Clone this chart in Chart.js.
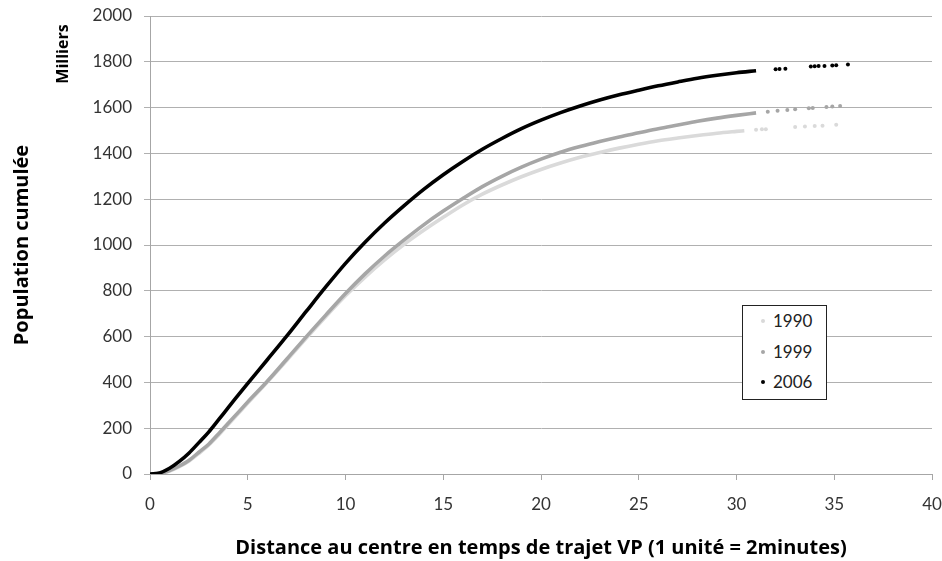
<!DOCTYPE html>
<html lang="fr">
<head>
<meta charset="utf-8">
<title>Population cumulée</title>
<script src="https://cdn.jsdelivr.net/npm/chart.js@4.4.1/dist/chart.umd.min.js"></script>
<style>
    html, body { margin: 0; padding: 0; background: #ffffff; }
    #wrap { position: relative; width: 942px; height: 561px; }
    #legend {
        position: absolute; left: 742px; top: 305px; width: 83px; height: 93px;
        border: 1px solid #222; background: #fff; font-family: Lato, sans-serif; font-size: 17px; color: #222;
    }
    #legend div { position: absolute; left: 0; height: 20px; line-height: 20px; }
    #legend span.dot { position: absolute; left: 18px; top: 8px; width: 4px; height: 4px; border-radius: 50%; }
    #legend span.txt { position: absolute; left: 30px; top: 0; }
</style>
</head>
<body>
<div id="wrap">
    <canvas id="mainChart" width="942" height="561"></canvas>
    <div id="legend">
        <div style="top:5px"><span class="dot" style="background:#d9d9d9"></span><span class="txt">1990</span></div>
        <div style="top:36px"><span class="dot" style="background:#a6a6a6"></span><span class="txt">1999</span></div>
        <div style="top:66px"><span class="dot" style="background:#000"></span><span class="txt">2006</span></div>
    </div>
</div>
<script>
// Graduations de l'axe X (temps de trajet) et de l'axe Y (milliers)
const xTicks = [0, 5, 10, 15, 20, 25, 30, 35, 40];
const yTicks = [0, 200, 400, 600, 800, 1000, 1200, 1400, 1600, 1800, 2000];

// Série 1990 (partie continue puis points isolés en fin de courbe)
const x1990 = [0, 0.5, 1, 1.5, 2, 2.5, 3, 3.5, 4, 4.5, 5, 6, 7, 8, 9, 10, 11, 12, 13, 14, 15, 16, 17, 18, 19, 20, 21, 22, 23, 24, 25, 26, 27, 28, 29, 30, 30.4];
const y1990 = [0, 3, 13, 32, 57, 90, 126, 169, 216, 263, 310, 402, 497, 594, 688, 778, 860, 935, 1003, 1064, 1121, 1175, 1222, 1262, 1298, 1330, 1358, 1383, 1404, 1423, 1440, 1455, 1467, 1478, 1488, 1496, 1499];
const tailX1990 = [31.0, 31.3, 31.5, 33.0, 33.5, 34.0, 34.4, 35.1];
const tailY1990 = [1503, 1505, 1506, 1515, 1517, 1520, 1521, 1525];

// Série 1999
const x1999 = [0, 0.5, 1, 1.5, 2, 2.5, 3, 3.5, 4, 4.5, 5, 6, 7, 8, 9, 10, 11, 12, 13, 14, 15, 16, 17, 18, 19, 20, 21, 22, 23, 24, 25, 26, 27, 28, 29, 30, 31];
const y1999 = [0, 3, 15, 35, 60, 95, 130, 175, 222, 268, 315, 405, 502, 600, 695, 788, 874, 952, 1022, 1088, 1148, 1203, 1255, 1300, 1340, 1375, 1405, 1430, 1452, 1472, 1490, 1508, 1524, 1540, 1554, 1566, 1577];
const tailX1999 = [31.6, 32.1, 32.6, 33.0, 33.7, 33.9, 34.6, 34.9, 35.3];
const tailY1999 = [1582, 1586, 1590, 1593, 1597, 1598, 1603, 1605, 1607];

// Série 2006
const x2006 = [0, 0.5, 1, 1.5, 2, 2.5, 3, 3.5, 4, 4.5, 5, 6, 7, 8, 9, 10, 11, 12, 13, 14, 15, 16, 17, 18, 19, 20, 21, 22, 23, 24, 25, 26, 27, 28, 29, 30, 31];
const y2006 = [0, 5, 25, 55, 92, 137, 183, 236, 290, 343, 396, 499, 603, 711, 818, 920, 1012, 1096, 1172, 1243, 1307, 1365, 1418, 1465, 1508, 1545, 1578, 1607, 1633, 1656, 1676, 1695, 1712, 1728, 1741, 1752, 1761];
const tailX2006 = [32.0, 32.2, 32.5, 33.8, 34.0, 34.2, 34.5, 34.9, 35.1, 35.7];
const tailY2006 = [1768, 1769, 1770, 1780, 1781, 1782, 1782, 1784, 1785, 1788];

function toPoints(xs, ys) {
    return xs.map((x, i) => ({ x: x, y: ys[i] }));
}

function curve(label, xs, ys, color, order) {
    return {
        label: label,
        data: toPoints(xs, ys),
        showLine: true,
        borderColor: color,
        backgroundColor: color,
        borderWidth: 3.6,
        pointRadius: 0,
        cubicInterpolationMode: 'monotone',
        order: order
    };
}

function tail(label, xs, ys, color, order) {
    return {
        label: label,
        data: toPoints(xs, ys),
        showLine: false,
        backgroundColor: color,
        borderColor: color,
        pointRadius: 2,
        pointBorderWidth: 0,
        order: order
    };
}

// Titres des axes dessinés à la main (position fixe comme dans l'original)
const axisTitles = {
    id: 'axisTitles',
    afterDraw(chart) {
        const ctx = chart.ctx;
        const area = chart.chartArea;
        ctx.save();
        ctx.fillStyle = '#000';
        ctx.textAlign = 'center';
        ctx.textBaseline = 'middle';
        ctx.font = 'bold 20px "Open Sans", sans-serif';
        ctx.fillText('Distance au centre en temps de trajet VP (1 unité = 2minutes)', (area.left + area.right) / 2, 548);

        ctx.translate(22, (area.top + area.bottom) / 2);
        ctx.rotate(-Math.PI / 2);
        ctx.fillText('Population cumulée', 0, 0);
        ctx.restore();

        ctx.save();
        ctx.fillStyle = '#000';
        ctx.textAlign = 'center';
        ctx.textBaseline = 'middle';
        ctx.font = 'bold 16px "Open Sans", sans-serif';
        ctx.translate(63, 54);
        ctx.rotate(-Math.PI / 2);
        ctx.fillText('Milliers', 0, 0);
        ctx.restore();
    }
};

const ctx = document.getElementById('mainChart').getContext('2d');
new Chart(ctx, {
    type: 'scatter',
    data: {
        datasets: [
            curve('2006', x2006, y2006, '#000000', 1),
            tail('2006', tailX2006, tailY2006, '#000000', 1),
            curve('1999', x1999, y1999, '#a6a6a6', 2),
            tail('1999', tailX1999, tailY1999, '#a6a6a6', 2),
            curve('1990', x1990, y1990, '#dadada', 3),
            tail('1990', tailX1990, tailY1990, '#dadada', 3)
        ]
    },
    options: {
        responsive: false,
        animation: false,
        devicePixelRatio: 1,
        layout: { padding: { top: 16, right: 10, left: 0, bottom: 0 } },
        plugins: {
            legend: { display: false },
            tooltip: { enabled: false }
        },
        scales: {
            x: {
                type: 'linear',
                min: 0,
                max: 40,
                afterBuildTicks: (scale) => { scale.ticks = xTicks.map(v => ({ value: v })); },
                afterFit: (scale) => {
                    scale.height = 87;
                    scale.paddingLeft = 0;
                    scale.paddingRight = 0;
                },
                border: { color: '#a6a6a6', width: 1 },
                grid: { drawOnChartArea: false, drawTicks: true, tickLength: 6, color: '#a6a6a6' },
                ticks: { color: '#333', padding: 14, font: { family: 'Lato', size: 17 }, callback: (v) => String(v) }
            },
            y: {
                type: 'linear',
                min: 0,
                max: 2000,
                afterBuildTicks: (scale) => { scale.ticks = yTicks.map(v => ({ value: v })); },
                afterFit: (scale) => {
                    scale.width = 150;
                    scale.paddingTop = 0;
                    scale.paddingBottom = 0;
                },
                border: { color: '#a6a6a6', width: 1 },
                grid: { color: '#b0b0b0', lineWidth: 1, drawTicks: true, tickLength: 6 },
                ticks: { color: '#333', padding: 12, font: { family: 'Lato', size: 17 }, callback: (v) => String(v) }
            }
        }
    },
    plugins: [axisTitles]
});
</script>
</body>
</html>
